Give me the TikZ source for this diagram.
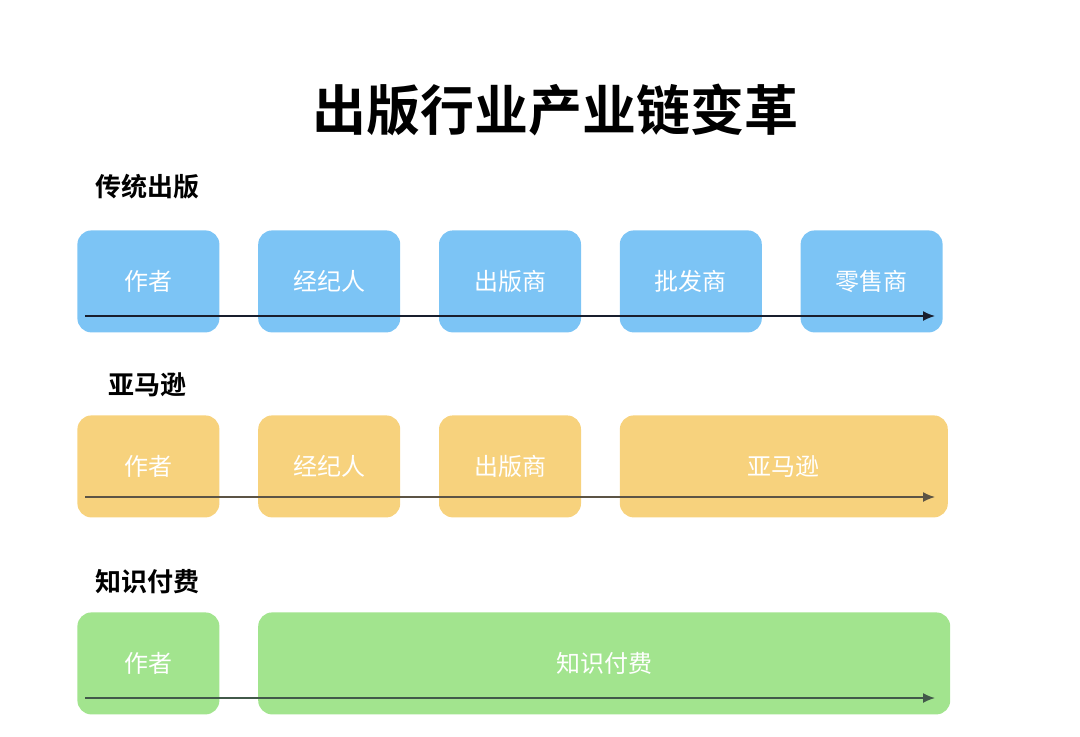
\documentclass[tikz,border=0pt]{standalone}
\usepackage{fontspec}
\setmainfont{Noto Sans CJK SC}
\newfontfamily\cjkbold{Noto Sans CJK SC Bold}
\usetikzlibrary{arrows.meta,positioning,calc}
\definecolor{skyblue}{RGB}{124,196,245}
\definecolor{sand}{RGB}{247,210,125}
\definecolor{leaf}{RGB}{162,228,142}
\definecolor{ink}{RGB}{25,30,45}
\tikzset{
  flow/.style={-{Latex[length=6pt,width=5pt]},thick,draw=ink},
  box/.style={rounded corners=7pt,fill=skyblue,text=white,font=\fontsize{12}{14}\selectfont,
              minimum width=71pt,minimum height=51pt,inner sep=0pt},
  sandbox/.style={box,fill=sand},
  leafbox/.style={box,fill=leaf},
  rowlabel/.style={anchor=west,font=\cjkbold\fontsize{13}{15}\selectfont,inner sep=0pt}
}
\begin{document}
\begin{tikzpicture}[x=0.5pt,y=-0.5pt,node distance=19pt]
  \useasboundingbox (0,0) rectangle (1080,736);
  \node[font=\cjkbold\fontsize{27}{31}\selectfont] (title) at (555,110) {出版行业产业链变革};
  % traditional
  \node[rowlabel] (lab1) at (95,187) {传统出版};
  \node[box,anchor=north west] (a1) at (77,230) {作者};
  \node[box,right=of a1] (a2) {经纪人};
  \node[box,right=of a2] (a3) {出版商};
  \node[box,right=of a3] (a4) {批发商};
  \node[box,right=of a4] (a5) {零售商};
  \coordinate (s1) at (85,316);
  \coordinate (e1) at (935,316);
  \draw[flow] (s1)--(e1);
  % amazon
  \node[rowlabel] (lab2) at (108,385) {亚马逊};
  \node[sandbox,anchor=north west] (b1) at (77,415) {作者};
  \node[sandbox,right=of b1] (b2) {经纪人};
  \node[sandbox,right=of b2] (b3) {出版商};
  \node[sandbox,right=of b3,minimum width=164pt] (b4) {亚马逊};
  \coordinate (s2) at (85,497);
  \coordinate (e2) at (935,497);
  \draw[flow,draw=ink!70!sand] (s2)--(e2);
  % paid knowledge
  \node[rowlabel] (lab3) at (95,582) {知识付费};
  \node[leafbox,anchor=north west] (c1) at (77,612) {作者};
  \node[leafbox,right=of c1,minimum width=346pt] (c2) {知识付费};
  \coordinate (s3) at (85,698);
  \coordinate (e3) at (935,698);
  \draw[flow,draw=ink!70!leaf] (s3)--(e3);
\end{tikzpicture}
\end{document}
